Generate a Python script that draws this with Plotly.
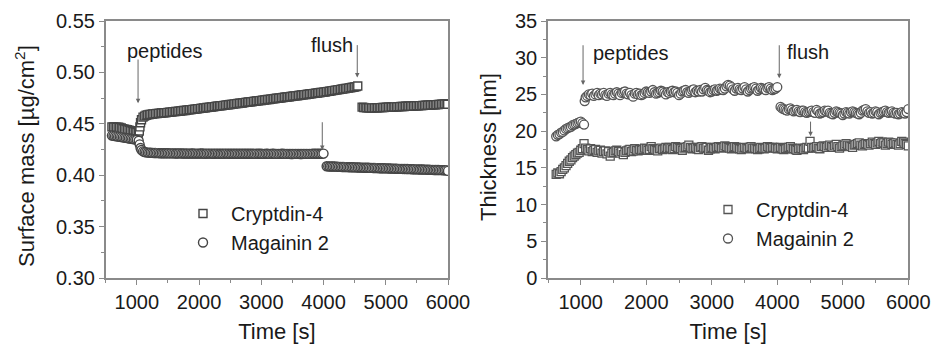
import plotly.graph_objects as go

# ---------------- Surface mass (left) ----------------
t_mass_c4 = [600, 625, 650, 675, 700, 725, 750, 775, 800, 825,
             850, 875, 900, 925, 950, 975, 1000, 1025,
             1040, 1050, 1060, 1075, 1100, 1125, 1150, 1175, 1200,
             1225, 1250, 1275, 1300, 1325, 1350, 1375, 1400, 1425, 1450,
             1475, 1500, 1525, 1550, 1575, 1600, 1625, 1650, 1675, 1700,
             1725, 1750, 1775, 1800, 1825, 1850, 1875, 1900, 1925, 1950,
             1975, 2000, 2025, 2050, 2075, 2100, 2125, 2150, 2175, 2200,
             2225, 2250, 2275, 2300, 2325, 2350, 2375, 2400, 2425, 2450,
             2475, 2500, 2525, 2550, 2575, 2600, 2625, 2650, 2675, 2700,
             2725, 2750, 2775, 2800, 2825, 2850, 2875, 2900, 2925, 2950,
             2975, 3000, 3025, 3050, 3075, 3100, 3125, 3150, 3175, 3200,
             3225, 3250, 3275, 3300, 3325, 3350, 3375, 3400, 3425, 3450,
             3475, 3500, 3525, 3550, 3575, 3600, 3625, 3650, 3675, 3700,
             3725, 3750, 3775, 3800, 3825, 3850, 3875, 3900, 3925, 3950,
             3975, 4000, 4025, 4050, 4075, 4100, 4125, 4150, 4175, 4200,
             4225, 4250, 4275, 4300, 4325, 4350, 4375, 4400, 4425, 4450,
             4475, 4500, 4525, 4550,
             4620, 4645, 4670, 4695, 4720, 4745, 4770, 4795, 4820, 4845,
             4870, 4895, 4920, 4945, 4970, 4995, 5020, 5045, 5070, 5095,
             5120, 5145, 5170, 5195, 5220, 5245, 5270, 5295, 5320, 5345,
             5370, 5395, 5420, 5445, 5470, 5495, 5520, 5545, 5570, 5595,
             5620, 5645, 5670, 5695, 5720, 5745, 5770, 5795, 5820, 5845,
             5870, 5895, 5920, 5945, 5970, 5995]
mass_c4 = [0.4470, 0.4469, 0.4468, 0.4467, 0.4466, 0.4464, 0.4460, 0.4452, 0.4448, 0.4445,
           0.4442, 0.4437, 0.4432, 0.4427, 0.4422, 0.4418, 0.4415, 0.4410,
           0.4430, 0.4470, 0.4510, 0.4540, 0.4565, 0.4575, 0.4583, 0.4587, 0.4590,
           0.4592, 0.4595, 0.4597, 0.4599, 0.4600, 0.4601, 0.4603, 0.4605, 0.4606, 0.4607,
           0.4609, 0.4611, 0.4612, 0.4614, 0.4616, 0.4618, 0.4619, 0.4621, 0.4622, 0.4624,
           0.4627, 0.4629, 0.4630, 0.4632, 0.4635, 0.4637, 0.4638, 0.4640, 0.4642, 0.4643,
           0.4646, 0.4648, 0.4650, 0.4652, 0.4653, 0.4655, 0.4658, 0.4660, 0.4662, 0.4664,
           0.4665, 0.4667, 0.4670, 0.4672, 0.4674, 0.4676, 0.4677, 0.4679, 0.4682, 0.4684,
           0.4686, 0.4688, 0.4689, 0.4691, 0.4694, 0.4696, 0.4698, 0.4700, 0.4701, 0.4703,
           0.4706, 0.4708, 0.4710, 0.4712, 0.4713, 0.4715, 0.4718, 0.4720, 0.4722, 0.4724,
           0.4725, 0.4727, 0.4730, 0.4732, 0.4734, 0.4736, 0.4737, 0.4739, 0.4742, 0.4744,
           0.4746, 0.4748, 0.4749, 0.4751, 0.4754, 0.4756, 0.4758, 0.4760, 0.4761, 0.4763,
           0.4766, 0.4768, 0.4770, 0.4772, 0.4773, 0.4775, 0.4778, 0.4780, 0.4782, 0.4784,
           0.4785, 0.4787, 0.4790, 0.4792, 0.4794, 0.4796, 0.4797, 0.4799, 0.4802, 0.4804,
           0.4806, 0.4808, 0.4810, 0.4813, 0.4815, 0.4817, 0.4820, 0.4823, 0.4825, 0.4828,
           0.4830, 0.4832, 0.4835, 0.4838, 0.4840, 0.4843, 0.4845, 0.4847, 0.4850, 0.4853,
           0.4855, 0.4858, 0.4862, 0.4868,
           0.4662, 0.4659, 0.4657, 0.4656, 0.4656, 0.4655, 0.4655, 0.4655, 0.4655, 0.4656,
           0.4656, 0.4657, 0.4657, 0.4658, 0.4659, 0.4660, 0.4661, 0.4662, 0.4662, 0.4663,
           0.4664, 0.4665, 0.4665, 0.4666, 0.4667, 0.4668, 0.4668, 0.4669, 0.4670, 0.4670,
           0.4671, 0.4672, 0.4672, 0.4673, 0.4674, 0.4675, 0.4676, 0.4677, 0.4677, 0.4678,
           0.4679, 0.4680, 0.4681, 0.4682, 0.4683, 0.4684, 0.4685, 0.4686, 0.4687, 0.4688,
           0.4689, 0.4690, 0.4691, 0.4692, 0.4692, 0.4690]

t_mass_mg = [600, 625, 650, 675, 700, 725, 750, 775, 800, 825,
             850, 875, 900, 925, 950, 975, 1000, 1030,
             1045, 1060, 1075, 1100, 1125, 1150, 1175, 1200,
             1225, 1250, 1275, 1300, 1325, 1350, 1375, 1400, 1425, 1450,
             1475, 1500, 1525, 1550, 1575, 1600, 1625, 1650, 1675, 1700,
             1725, 1750, 1775, 1800, 1825, 1850, 1875, 1900, 1925, 1950,
             1975, 2000, 2025, 2050, 2075, 2100, 2125, 2150, 2175, 2200,
             2225, 2250, 2275, 2300, 2325, 2350, 2375, 2400, 2425, 2450,
             2475, 2500, 2525, 2550, 2575, 2600, 2625, 2650, 2675, 2700,
             2725, 2750, 2775, 2800, 2825, 2850, 2875, 2900, 2925, 2950,
             2975, 3000, 3025, 3050, 3075, 3100, 3125, 3150, 3175, 3200,
             3225, 3250, 3275, 3300, 3325, 3350, 3375, 3400, 3425, 3450,
             3475, 3500, 3525, 3550, 3575, 3600, 3625, 3650, 3675, 3700,
             3725, 3750, 3775, 3800, 3825, 3850, 3875, 3900, 3925, 3950,
             3975, 4000,
             4050, 4075, 4100, 4125, 4150, 4175, 4200, 4225, 4250, 4275,
             4300, 4325, 4350, 4375, 4400, 4425, 4450, 4475, 4500, 4525,
             4550, 4575, 4600, 4625, 4650, 4675, 4700, 4725, 4750, 4775,
             4800, 4825, 4850, 4875, 4900, 4925, 4950, 4975, 5000, 5025,
             5050, 5075, 5100, 5125, 5150, 5175, 5200, 5225, 5250, 5275,
             5300, 5325, 5350, 5375, 5400, 5425, 5450, 5475, 5500, 5525,
             5550, 5575, 5600, 5625, 5650, 5675, 5700, 5725, 5750, 5775,
             5800, 5825, 5850, 5875, 5900, 5925, 5950, 5975, 6000]
mass_mg = [0.4385, 0.4383, 0.4380, 0.4378, 0.4375, 0.4373, 0.4370, 0.4368, 0.4365, 0.4363,
           0.4360, 0.4358, 0.4355, 0.4353, 0.4350, 0.4348, 0.4345, 0.4335,
           0.4300, 0.4265, 0.4245, 0.4232, 0.4226, 0.4222, 0.4220, 0.4219,
           0.4218, 0.4217, 0.4216, 0.4216, 0.4215, 0.4215, 0.4214, 0.4214, 0.4213, 0.4213,
           0.4213, 0.4213, 0.4212, 0.4212, 0.4212, 0.4212, 0.4211, 0.4211, 0.4212, 0.4212,
           0.4211, 0.4211, 0.4210, 0.4211, 0.4210, 0.4210, 0.4211, 0.4211, 0.4210, 0.4210,
           0.4210, 0.4210, 0.4211, 0.4211, 0.4210, 0.4209, 0.4210, 0.4210, 0.4210, 0.4210,
           0.4209, 0.4209, 0.4210, 0.4210, 0.4209, 0.4209, 0.4209, 0.4209, 0.4210, 0.4210,
           0.4209, 0.4208, 0.4209, 0.4209, 0.4209, 0.4209, 0.4208, 0.4208, 0.4209, 0.4209,
           0.4208, 0.4208, 0.4208, 0.4208, 0.4209, 0.4209, 0.4208, 0.4207, 0.4208, 0.4208,
           0.4208, 0.4208, 0.4207, 0.4207, 0.4208, 0.4208, 0.4207, 0.4207, 0.4208, 0.4208,
           0.4207, 0.4207, 0.4207, 0.4207, 0.4208, 0.4208, 0.4207, 0.4207, 0.4207, 0.4207,
           0.4206, 0.4206, 0.4207, 0.4207, 0.4207, 0.4207, 0.4206, 0.4206, 0.4207, 0.4207,
           0.4207, 0.4207, 0.4207, 0.4207, 0.4208, 0.4208, 0.4208, 0.4208, 0.4208, 0.4208,
           0.4209, 0.4210,
           0.4087, 0.4086, 0.4085, 0.4085, 0.4084, 0.4084, 0.4083, 0.4082, 0.4081, 0.4081,
           0.4080, 0.4080, 0.4079, 0.4079, 0.4078, 0.4078, 0.4077, 0.4077, 0.4076, 0.4076,
           0.4075, 0.4075, 0.4074, 0.4074, 0.4073, 0.4073, 0.4072, 0.4072, 0.4071, 0.4071,
           0.4070, 0.4070, 0.4069, 0.4069, 0.4068, 0.4068, 0.4067, 0.4067, 0.4066, 0.4066,
           0.4065, 0.4065, 0.4064, 0.4064, 0.4063, 0.4063, 0.4062, 0.4062, 0.4062, 0.4061,
           0.4061, 0.4060, 0.4060, 0.4059, 0.4059, 0.4058, 0.4058, 0.4057, 0.4057, 0.4056,
           0.4056, 0.4055, 0.4055, 0.4054, 0.4054, 0.4053, 0.4053, 0.4052, 0.4052, 0.4051,
           0.4051, 0.4050, 0.4050, 0.4049, 0.4049, 0.4048, 0.4048, 0.4047, 0.4042]

# ---------------- Thickness (right) ----------------
t_thick_c4 = [625, 650, 675, 700, 725, 750, 775, 800, 825, 850,
              875, 900, 925, 950, 975, 1000, 1025, 1050,
              1075, 1100, 1125, 1150, 1175, 1200, 1225, 1250, 1275, 1300,
              1325, 1350, 1375, 1400, 1425, 1450, 1475, 1500, 1525, 1550,
              1575, 1600, 1625, 1650, 1675, 1700, 1725, 1750, 1775, 1800,
              1825, 1850, 1875, 1900, 1925, 1950, 1975, 2000, 2025, 2050,
              2075, 2100, 2125, 2150, 2175, 2200, 2225, 2250, 2275, 2300,
              2325, 2350, 2375, 2400, 2425, 2450, 2475, 2500, 2525, 2550,
              2575, 2600, 2625, 2650, 2675, 2700, 2725, 2750, 2775, 2800,
              2825, 2850, 2875, 2900, 2925, 2950, 2975, 3000, 3025, 3050,
              3075, 3100, 3125, 3150, 3175, 3200, 3225, 3250, 3275, 3300,
              3325, 3350, 3375, 3400, 3425, 3450, 3475, 3500, 3525, 3550,
              3575, 3600, 3625, 3650, 3675, 3700, 3725, 3750, 3775, 3800,
              3825, 3850, 3875, 3900, 3925, 3950, 3975, 4000, 4025, 4050,
              4075, 4100, 4125, 4150, 4175, 4200, 4225, 4250, 4275, 4300,
              4325, 4350, 4375, 4400, 4425, 4450, 4475, 4500, 4525, 4550,
              4575, 4600, 4625, 4650, 4675, 4700, 4725, 4750, 4775, 4800,
              4825, 4850, 4875, 4900, 4925, 4950, 4975, 5000, 5025, 5050,
              5075, 5100, 5125, 5150, 5175, 5200, 5225, 5250, 5275, 5300,
              5325, 5350, 5375, 5400, 5425, 5450, 5475, 5500, 5525, 5550,
              5575, 5600, 5625, 5650, 5675, 5700, 5725, 5750, 5775, 5800,
              5825, 5850, 5875, 5900, 5925, 5950, 5975, 6000]
thick_c4 = [14.1, 14.3, 14.2, 14.5, 14.8, 15.0, 15.3, 15.6, 15.9, 16.1,
            16.4, 16.6, 16.8, 17.0, 17.1, 17.4, 17.6, 18.3,
            17.7, 17.5, 17.3, 17.6, 17.2, 17.4, 17.5, 17.1, 17.3, 17.4,
            17.0, 17.2, 17.3, 16.9, 17.2, 16.6, 17.0, 17.1, 17.3, 17.4,
            17.2, 17.0, 17.2, 16.8, 17.1, 17.3, 17.4, 17.5, 17.2, 17.3,
            17.6, 17.4, 17.3, 17.5, 17.4, 17.5, 17.7, 17.6, 17.4, 17.5,
            17.9, 17.6, 17.5, 17.4, 17.3, 17.6, 17.7, 17.5, 17.6, 17.8,
            17.6, 17.8, 17.7, 17.5, 17.6, 17.9, 17.8, 17.7, 17.6, 17.4,
            17.7, 17.8, 17.9, 18.1, 17.8, 17.6, 17.7, 17.8, 17.6, 17.5,
            17.8, 17.9, 17.7, 17.7, 17.8, 17.4, 17.6, 17.8, 17.7, 17.6,
            17.8, 17.9, 17.8, 17.7, 17.8, 18.0, 17.9, 17.8, 17.7, 17.6,
            17.8, 17.9, 17.8, 17.7, 17.6, 17.5, 17.7, 17.8, 17.7, 17.6,
            17.8, 17.9, 17.7, 17.7, 17.6, 17.5, 17.6, 17.8, 17.7, 17.6,
            17.7, 17.9, 17.8, 17.7, 17.8, 17.8, 17.7, 17.6, 17.7, 17.8,
            17.6, 17.5, 17.6, 17.7, 17.8, 17.9, 17.7, 17.6, 17.5, 17.4,
            17.6, 17.7, 17.6, 17.5, 17.7, 17.8, 17.7, 18.6, 17.8, 17.7,
            17.8, 17.9, 17.7, 17.6, 17.9, 18.0, 17.9, 17.8, 18.0, 18.1,
            17.9, 17.8, 18.0, 18.2, 17.9, 17.7, 17.9, 18.0, 18.1, 18.3,
            18.1, 18.0, 17.9, 17.8, 18.1, 18.2, 18.3, 18.4, 18.1, 18.0,
            18.2, 18.3, 18.2, 18.1, 18.3, 18.5, 18.3, 18.2, 18.4, 18.6,
            18.3, 18.5, 18.4, 18.1, 18.3, 18.5, 18.4, 18.2, 18.3, 18.4,
            18.2, 18.1, 18.3, 18.6, 18.5, 18.3, 18.2, 18.0]

t_thick_mg = [625, 650, 675, 700, 725, 750, 775, 800, 825, 850,
              875, 900, 925, 950, 975, 1000, 1025, 1050,
              1060,
              1075, 1100, 1125, 1150, 1175, 1200, 1225, 1250, 1275, 1300,
              1325, 1350, 1375, 1400, 1425, 1450, 1475, 1500, 1525, 1550,
              1575, 1600, 1625, 1650, 1675, 1700, 1725, 1750, 1775, 1800,
              1825, 1850, 1875, 1900, 1925, 1950, 1975, 2000, 2025, 2050,
              2075, 2100, 2125, 2150, 2175, 2200, 2225, 2250, 2275, 2300,
              2325, 2350, 2375, 2400, 2425, 2450, 2475, 2500, 2525, 2550,
              2575, 2600, 2625, 2650, 2675, 2700, 2725, 2750, 2775, 2800,
              2825, 2850, 2875, 2900, 2925, 2950, 2975, 3000, 3025, 3050,
              3075, 3100, 3125, 3150, 3175, 3200, 3225, 3250, 3275, 3300,
              3325, 3350, 3375, 3400, 3425, 3450, 3475, 3500, 3525, 3550,
              3575, 3600, 3625, 3650, 3675, 3700, 3725, 3750, 3775, 3800,
              3825, 3850, 3875, 3900, 3925, 3950, 3975, 4000,
              4050, 4075, 4100, 4125, 4150, 4175, 4200, 4225, 4250, 4275,
              4300, 4325, 4350, 4375, 4400, 4425, 4450, 4475, 4500, 4525,
              4550, 4575, 4600, 4625, 4650, 4675, 4700, 4725, 4750, 4775,
              4800, 4825, 4850, 4875, 4900, 4925, 4950, 4975, 5000, 5025,
              5050, 5075, 5100, 5125, 5150, 5175, 5200, 5225, 5250, 5275,
              5300, 5325, 5350, 5375, 5400, 5425, 5450, 5475, 5500, 5525,
              5550, 5575, 5600, 5625, 5650, 5675, 5700, 5725, 5750, 5775,
              5800, 5825, 5850, 5875, 5900, 5925, 5950, 5975,
              6000]
thick_mg = [19.3, 19.5, 19.6, 19.8, 19.9, 20.1, 20.3, 20.4, 20.5, 20.6,
            20.8, 20.9, 21.0, 21.1, 21.2, 21.3, 21.1, 20.9,
            24.1,
            24.6, 24.8, 25.0, 24.9, 25.1, 24.8, 25.0, 25.2, 24.9, 25.1,
            25.0, 25.2, 24.9, 24.8, 25.1, 25.2, 25.0, 24.9, 25.1, 25.3,
            25.1, 24.9, 25.2, 25.3, 25.4, 25.1, 25.0, 25.2, 24.9, 24.7,
            25.1, 25.2, 25.0, 25.1, 24.9, 25.0, 25.2, 25.4, 25.3, 25.2,
            25.4, 25.6, 25.3, 25.1, 25.2, 25.3, 25.5, 25.4, 25.2, 25.0,
            25.3, 25.2, 25.4, 25.5, 25.3, 25.4, 25.2, 24.9, 25.1, 25.4,
            25.5, 25.6, 25.3, 25.2, 25.4, 25.6, 25.7, 25.3, 25.5, 25.4,
            25.6, 25.4, 25.7, 25.9, 25.6, 25.5, 25.3, 25.4, 25.6, 25.7,
            25.5, 25.6, 25.8, 25.7, 25.6, 25.8, 26.1, 26.3, 26.2, 26.0,
            25.7, 25.5, 25.8, 25.9, 25.7, 25.6, 25.8, 26.0, 25.7, 25.4,
            25.6, 25.8, 25.9, 26.0, 25.8, 25.5, 25.7, 25.9, 25.8, 25.7,
            25.6, 25.9, 26.0, 25.8, 25.6, 25.7, 25.8, 26.0,
            23.3, 23.1, 23.0, 22.9, 22.8, 23.0, 23.1, 22.9, 22.7, 22.8,
            22.9, 22.7, 22.6, 22.8, 22.8, 22.6, 22.5, 22.6, 22.7, 22.8,
            22.6, 22.5, 22.9, 22.7, 22.4, 22.5, 22.6, 22.8, 22.7, 22.8,
            22.5, 22.4, 22.3, 22.5, 22.7, 22.6, 22.5, 22.4, 22.2, 22.4,
            22.6, 22.5, 22.4, 22.6, 22.7, 22.6, 22.5, 22.4, 22.3, 22.5,
            22.8, 22.9, 23.0, 22.7, 22.5, 22.6, 22.4, 22.5, 22.7, 22.6,
            22.3, 22.5, 22.6, 22.7, 22.8, 22.6, 22.5, 22.6, 22.7, 22.5,
            22.4, 22.5, 22.3, 22.4, 22.6, 22.5, 22.4, 22.6,
            23.0]

series_names = ["Cryptdin-4", "Magainin 2"]

FONT = "Liberation Sans, Arial, sans-serif"
AX = "#8a8a8a"
TXT = "#1a1a1a"

fig = go.Figure()

def add(x, y, name, symbol, size, width, color, xa, ya, legend):
    fig.add_trace(go.Scatter(
        x=x, y=y, mode="markers", name=name, xaxis=xa, yaxis=ya, legend=legend,
        marker=dict(symbol=symbol, size=size, color="white",
                    line=dict(color=color, width=width))))

add(t_mass_c4, mass_c4, series_names[0], "square", 8, 1.4, "#454545", "x", "y", "legend")
add(t_mass_mg, mass_mg, series_names[1], "circle", 9, 1.4, "#454545", "x", "y", "legend")
add(t_thick_c4, thick_c4, series_names[0], "square", 8, 1.3, "#555555", "x2", "y2", "legend2")
add(t_thick_mg, thick_mg, series_names[1], "circle", 9, 1.3, "#555555", "x2", "y2", "legend2")

xcommon = dict(range=[500, 6000], tick0=1000, dtick=1000, ticks="outside", ticklen=5,
               tickcolor=AX, showline=True, linecolor=AX, linewidth=1.5, mirror=True,
               showgrid=False, zeroline=False, automargin=False,
               minor=dict(ticks="outside", ticklen=3, dtick=500, tick0=500, tickcolor=AX),
               tickfont=dict(size=20, color=TXT, family=FONT),
               title=dict(text="Time [s]", font=dict(size=22, color=TXT, family=FONT),
                          standoff=12))

ycommon = dict(ticks="outside", ticklen=5, tickcolor=AX, showline=True, linecolor=AX,
               linewidth=1.5, mirror=True, showgrid=False, zeroline=False, automargin=False,
               tickfont=dict(size=20, color=TXT, family=FONT))

fig.update_layout(
    width=931, height=344,
    margin=dict(l=0, r=0, t=21, b=66),
    plot_bgcolor="white", paper_bgcolor="white",
    font=dict(family=FONT, color=TXT),
    xaxis=dict(domain=[105.7 / 931, 448 / 931], anchor="y", **xcommon),
    xaxis2=dict(domain=[548 / 931, 908.3 / 931], anchor="y2", **xcommon),
    yaxis=dict(anchor="x", range=[0.30, 0.55], dtick=0.05, tickformat=".2f",
               minor=dict(ticks="outside", ticklen=3, dtick=0.025, tickcolor=AX), **ycommon),
    yaxis2=dict(anchor="x2", range=[0, 35], dtick=5,
                minor=dict(ticks="outside", ticklen=3, dtick=2.5, tickcolor=AX), **ycommon),
    legend=dict(x=175 / 931, y=(278 - 194) / 257, xanchor="left", yanchor="top",
                bgcolor="rgba(0,0,0,0)", itemwidth=46, tracegroupgap=0,
                font=dict(size=20, family=FONT, color=TXT)),
    legend2=dict(x=700 / 931, y=(278 - 190) / 257, xanchor="left", yanchor="top",
                 bgcolor="rgba(0,0,0,0)", itemwidth=46, tracegroupgap=0,
                 font=dict(size=20, family=FONT, color=TXT)),
)

# y-axis titles
fig.add_annotation(x=25 / 931, y=(278 - 156) / 257, xref="paper", yref="paper",
                   text="Surface mass [µg/cm<sup>2</sup>]", textangle=-90, showarrow=False,
                   xanchor="center", yanchor="middle",
                   font=dict(size=22, family=FONT, color=TXT))
fig.add_annotation(x=488 / 931, y=(278 - 147) / 257, xref="paper", yref="paper",
                   text="Thickness [nm]", textangle=-90, showarrow=False,
                   xanchor="center", yanchor="middle",
                   font=dict(size=22, family=FONT, color=TXT))

def add_arrow(xr, yr, x, y_tip, y_tail):
    fig.add_annotation(x=x, y=y_tip, ax=x, ay=y_tail, xref=xr, yref=yr,
                       axref=xr, ayref=yr, showarrow=True, arrowhead=2, arrowsize=0.9,
                       arrowwidth=1, arrowcolor="#666", text="")

def add_text(xr, yr, x, y, s):
    fig.add_annotation(x=x, y=y, xref=xr, yref=yr, text=s, showarrow=False,
                       font=dict(size=20, family=FONT, color=TXT))

# left panel
add_arrow("x", "y", 1020, 0.470, 0.514)
add_arrow("x", "y", 4542, 0.495, 0.528)
add_arrow("x", "y", 3980, 0.4245, 0.453)
add_text("x", "y", 1460, 0.5205, "peptides")
add_text("x", "y", 4135, 0.5270, "flush")
# right panel
add_arrow("x2", "y2", 1035, 26.3, 31.9)
add_arrow("x2", "y2", 4030, 27.2, 31.9)
add_arrow("x2", "y2", 4508, 19.3, 21.5)
add_text("x2", "y2", 1764, 30.6, "peptides")
add_text("x2", "y2", 4470, 30.8, "flush")

fig.write_html("out.html", config={"displayModeBar": False},
               post_script="document.body.style.margin='0px';document.body.style.overflow='hidden';")
